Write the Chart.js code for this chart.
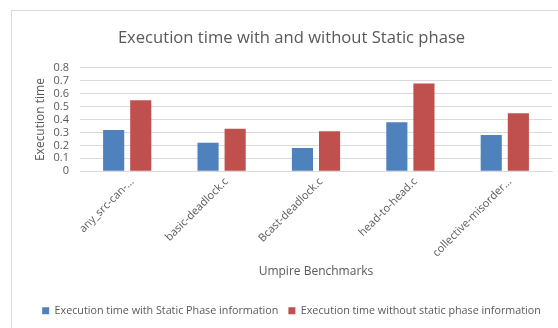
<!DOCTYPE html>
<html>
<head>
<meta charset="utf-8">
<script src="https://cdn.jsdelivr.net/npm/chart.js@4.4.0/dist/chart.umd.min.js"></script>
<style>
  html, body { margin: 0; padding: 0; background: #fff; overflow: hidden; }
  #wrap { position: relative; width: 558px; height: 328px; overflow: hidden; }
  #frame { position: absolute; left: 11px; top: 10px; width: 600px; height: 400px; border: 1px solid #d9d9d9; box-sizing: border-box; }
  #c { position: absolute; left: 0; top: 0; }
</style>
</head>
<body>
<div id="wrap">
  <div id="frame"></div>
  <canvas id="c" width="583" height="328"></canvas>
</div>
<script>
const categories = ["any_src-can-...", "basic-deadlock.c", "Bcast-deadlock.c", "head-to-head.c", "collective-misorder..."];
const withStatic = [0.32, 0.22, 0.18, 0.38, 0.28];
const withoutStatic = [0.55, 0.33, 0.31, 0.68, 0.45];
const yTicks = [0, 0.1, 0.2, 0.3, 0.4, 0.5, 0.6, 0.7, 0.8];
const seriesNames = ["Execution time with Static Phase information", "Execution time without static phase information"];

const FONT = "'Open Sans', 'Liberation Sans', sans-serif";
const TXT = '#595959';

new Chart(document.getElementById('c'), {
  type: 'bar',
  data: {
    labels: categories,
    datasets: [
      { label: seriesNames[0], data: withStatic, backgroundColor: '#4F81BD', barPercentage: 0.78, categoryPercentage: 0.574 },
      { label: seriesNames[1], data: withoutStatic, backgroundColor: '#C0504D', barPercentage: 0.78, categoryPercentage: 0.574 }
    ]
  },
  options: {
    responsive: false,
    animation: false,
    devicePixelRatio: 1,
    layout: { padding: { left: 0, right: 0, top: 0, bottom: 2 } },
    plugins: {
      title: {
        display: true,
        text: 'Execution time with and without Static phase',
        color: TXT,
        font: { family: FONT, size: 16.6, weight: 'normal' },
        padding: { top: 28, bottom: 20 }
      },
      legend: {
        position: 'bottom',
        labels: {
          boxWidth: 7, boxHeight: 7,
          color: TXT,
          font: { family: FONT, size: 10.75 },
          padding: 10
        }
      },
      tooltip: { enabled: false }
    },
    scales: {
      x: {
        grid: { display: false, drawTicks: false },
        border: { display: true, color: '#d9d9d9' },
        ticks: {
          color: TXT, font: { family: FONT, size: 11 },
          minRotation: 45, maxRotation: 45, autoSkip: false, padding: 4, labelOffset: 5
        },
        title: {
          display: true, text: 'Umpire Benchmarks', color: TXT,
          font: { family: FONT, size: 12 }, padding: { top: 0, bottom: 16 }
        },
        afterFit: (s) => { s.height = 124; }
      },
      y: {
        min: 0, max: 0.8,
        afterBuildTicks: (s) => { s.ticks = yTicks.map(v => ({ value: v })); },
        grid: { color: '#d9d9d9', drawTicks: false },
        border: { display: false },
        ticks: {
          color: TXT, font: { family: FONT, size: 11 }, padding: 11, autoSkip: false,
          callback: (v) => String(Math.round(v * 10) / 10)
        },
        title: {
          display: true, text: 'Execution time', color: TXT,
          font: { family: FONT, size: 12 }, padding: { top: 33, bottom: 0 }
        },
        afterFit: (s) => { s.width = 80; }
      },
      spacer: {
        type: 'linear',
        position: 'right',
        display: true,
        grid: { display: false, drawTicks: false },
        border: { display: false },
        ticks: { display: false },
        afterFit: (s) => { s.width = 31; }
      }
    }
  }
});
</script>
</body>
</html>
